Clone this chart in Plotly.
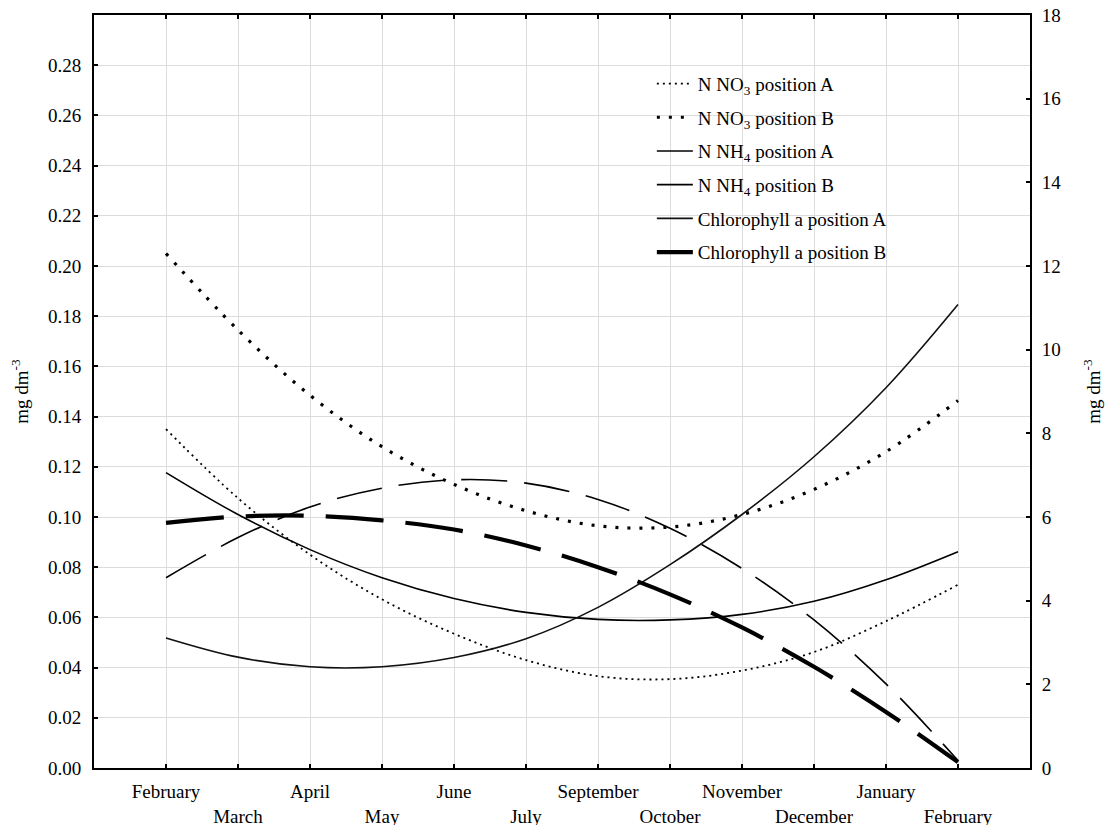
import plotly.graph_objects as go

# Categories (sampling months)
months = ["February", "March", "April", "May", "June", "July",
          "September", "October", "November", "December", "January", "February"]
month_idx = list(range(len(months)))

# Left axis series (mg dm-3)
no3_a = [0.135, 0.1075, 0.0850, 0.0672, 0.0535, 0.0430, 0.0366, 0.0354, 0.0388, 0.0462, 0.0585, 0.0730]
no3_b = [0.205, 0.1745, 0.1485, 0.1280, 0.1130, 0.1025, 0.0965, 0.0960, 0.1010, 0.1110, 0.1260, 0.1464]
nh4_a = [0.1177, 0.1010, 0.0870, 0.0758, 0.0675, 0.0620, 0.0592, 0.0590, 0.0612, 0.0664, 0.0750, 0.0862]
nh4_b = [0.0758, 0.0918, 0.1040, 0.1115, 0.1148, 0.1135, 0.1070, 0.0955, 0.0795, 0.0590, 0.0335, 0.0030]

# Right axis series
chl_a = [3.11, 2.65, 2.42, 2.42, 2.64, 3.09, 3.84, 4.86, 6.06, 7.44, 9.09, 11.08]
chl_b = [5.86, 6.01, 6.03, 5.92, 5.70, 5.32, 4.80, 4.15, 3.36, 2.42, 1.34, 0.14]

left_ticks = [0.00, 0.02, 0.04, 0.06, 0.08, 0.10, 0.12, 0.14, 0.16, 0.18, 0.20, 0.22, 0.24, 0.26, 0.28]
right_ticks = [0, 2, 4, 6, 8, 10, 12, 14, 16, 18]

FONT = "Liberation Serif, Times New Roman, serif"
FS = 19

ticktext = [m if i % 2 == 0 else "<br>" + m for i, m in enumerate(months)]

fig = go.Figure()

def add(y, name, dash, width, color="black", axis="y", group=""):
    fig.add_trace(go.Scatter(
        x=month_idx, y=y, name=name, mode="lines", yaxis=axis,
        line=dict(color=color, width=width, dash=dash, shape="spline", smoothing=1.0),
        legendgroup=group,
    ))

add(no3_a, "N NO<sub>3</sub> position A", "2px,4px", 1.8, group="g1")
add(no3_b, "N NO<sub>3</sub> position B", "3px,9px", 3.2, group="g2")
add(nh4_a, "N NH<sub>4</sub> position A", "solid", 1.6, group="g3")
add(nh4_b, "N NH<sub>4</sub> position B", "46px,17px", 1.6, group="g4")
add(chl_a, "Chlorophyll a position A", "solid", 1.6, color="#111111", axis="y2", group="g5")
add(chl_b, "Chlorophyll a position B", "58px,22px", 4.2, axis="y2", group="g6")

fig.update_layout(
    width=1105, height=825,
    margin=dict(l=94, r=75, t=15, b=57),
    paper_bgcolor="white", plot_bgcolor="white",
    font=dict(family=FONT, size=FS, color="black"),
    showlegend=True,
    legend=dict(
        x=0.596, y=0.934, xanchor="left", yanchor="top",
        bgcolor="rgba(0,0,0,0)", tracegroupgap=6,
        font=dict(family=FONT, size=FS, color="black"),
        itemwidth=36,
    ),
    xaxis=dict(
        range=[-1, 12], tickmode="array", tickvals=month_idx, ticktext=ticktext,
        tickangle=0, automargin=False, ticklabelstandoff=5,
        showgrid=True, gridcolor="#dcdcdc", gridwidth=1,
        showline=True, linecolor="black", linewidth=2, mirror="ticks",
        ticks="inside", ticklen=4, tickcolor="black", tickwidth=1.5,
        zeroline=False, tickfont=dict(family=FONT, size=FS, color="black"),
    ),
    yaxis=dict(
        range=[0, 0.30], tickmode="array", tickvals=left_ticks,
        ticktext=[f"{v:.2f}" for v in left_ticks], automargin=False,
        showgrid=True, gridcolor="#dcdcdc", gridwidth=1,
        showline=True, linecolor="black", linewidth=2,
        ticks="inside", ticklen=4, tickcolor="black", tickwidth=1.5,
        zeroline=False, ticklabelstandoff=7,
        title=dict(text="mg dm<sup>-3</sup>", font=dict(family=FONT, size=FS), standoff=14),
        tickfont=dict(family=FONT, size=FS, color="black"),
    ),
    yaxis2=dict(
        range=[0, 18], overlaying="y", side="right", tickmode="array", tickvals=right_ticks,
        automargin=False,
        showgrid=False, showline=True, linecolor="black", linewidth=2,
        ticks="inside", ticklen=4, tickcolor="black", tickwidth=1.5,
        zeroline=False, ticklabelstandoff=6,
        title=dict(text="mg dm<sup>-3</sup>", font=dict(family=FONT, size=FS), standoff=26),
        tickfont=dict(family=FONT, size=FS, color="black"),
    ),
)

fig.write_html("out.html")
